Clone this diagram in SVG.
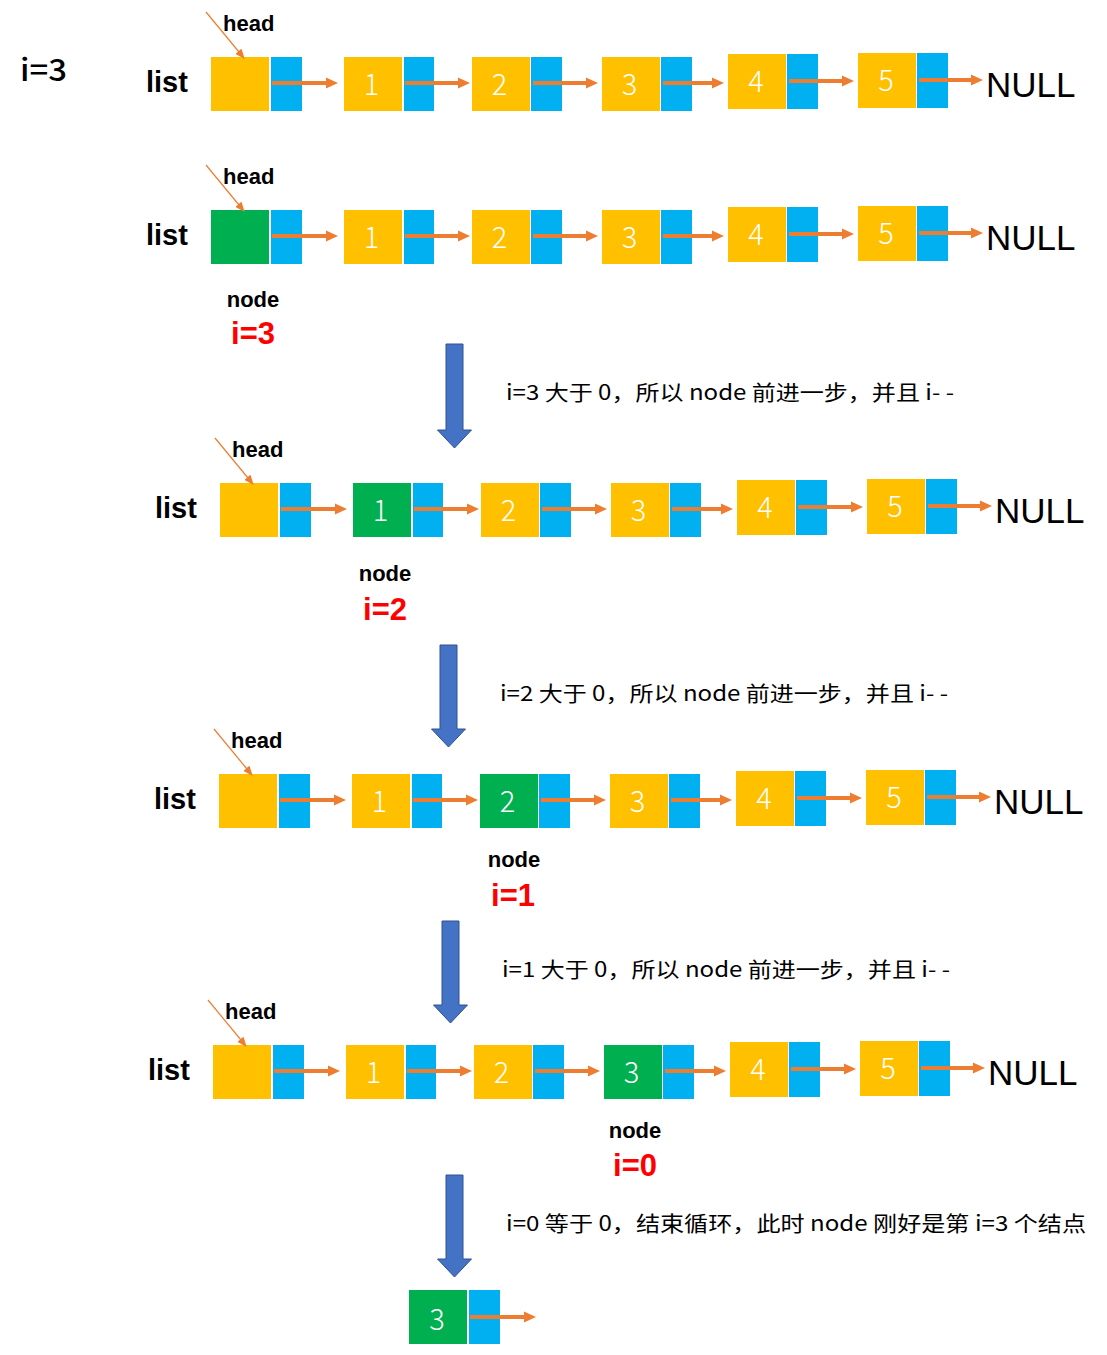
<svg xmlns="http://www.w3.org/2000/svg" width="1107" height="1355" viewBox="0 0 1107 1355">
<style>
.y{fill:#FFC000}
.b{fill:#00B0F0}
.g{fill:#00B050}
.num{font-family:"Noto Sans CJK SC","Liberation Sans",Arial,sans-serif;font-weight:300;font-size:29px;fill:#FFFFFF;text-anchor:middle}
.null{font-family:"Liberation Sans",Arial,sans-serif;font-size:35px;fill:#000000}
.lbl{font-family:"Liberation Sans",Arial,sans-serif;font-weight:bold;fill:#000000}
.red{font-family:"Liberation Sans",Arial,sans-serif;font-weight:bold;font-size:31px;fill:#FF0000;text-anchor:middle}
.cap{font-family:"Noto Sans CJK SC","Liberation Sans",sans-serif;font-size:21px;fill:#000000}
.conn{stroke:#ED7D31;stroke-width:4;fill:none;marker-end:url(#ah)}
.hconn{stroke:#ED7D31;stroke-width:1.2;fill:none;marker-end:url(#ahs)}
.down{fill:#4472C4;stroke:#2F528F;stroke-width:1}
</style>
<defs>
<marker id="ah" markerUnits="userSpaceOnUse" viewBox="0 0 12 12" markerWidth="12" markerHeight="12" refX="1" refY="6" orient="auto">
<path d="M0,0.5 L12,6 L0,11.5 Z" fill="#ED7D31"/>
</marker>
<marker id="ahs" markerUnits="userSpaceOnUse" viewBox="0 0 10 8" markerWidth="10" markerHeight="8" refX="1" refY="4" orient="auto">
<path d="M0,0 L10,4 L0,8 Z" fill="#ED7D31"/>
</marker>
</defs>
<rect width="1107" height="1355" fill="#FFFFFF"/>

<text x="20" y="81" font-family="Noto Sans CJK SC, Liberation Sans, sans-serif" font-weight="500" font-size="31" textLength="47" lengthAdjust="spacingAndGlyphs">i=3</text>

<!-- Row 1 -->
<g id="row1">
<text class="lbl" x="146" y="92" font-size="29">list</text>
<text class="lbl" x="223" y="31" font-size="22">head</text>
<g id="r1-head"><rect class="y" x="211" y="57" width="58" height="54"/><rect class="b" x="271" y="57" width="31" height="54"/></g>
<g id="r1-n1"><rect class="y" x="344" y="57" width="58" height="54"/><rect class="b" x="404" y="57" width="30" height="54"/><text class="num" x="371.5" y="95">1</text></g>
<g id="r1-n2"><rect class="y" x="472" y="57" width="58" height="54"/><rect class="b" x="531" y="57" width="31" height="54"/><text class="num" x="499.5" y="95">2</text></g>
<g id="r1-n3"><rect class="y" x="602" y="57" width="58" height="54"/><rect class="b" x="661" y="57" width="31" height="54"/><text class="num" x="629.5" y="95">3</text></g>
<g id="r1-n4"><rect class="y" x="728" y="54" width="58" height="55"/><rect class="b" x="787" y="54" width="31" height="55"/><text class="num" x="756" y="92">4</text></g>
<g id="r1-n5"><rect class="y" x="858" y="53" width="58" height="55"/><rect class="b" x="917" y="53" width="31" height="55"/><text class="num" x="886" y="91">5</text></g>
<text class="null" x="986" y="97">NULL</text>
</g>

<!-- Row 2 -->
<g id="row2" transform="translate(0,153)">
<text class="lbl" x="146" y="92" font-size="29">list</text>
<text class="lbl" x="223" y="31" font-size="22">head</text>
<g id="r2-head"><rect class="g" x="211" y="57" width="58" height="54"/><rect class="b" x="271" y="57" width="31" height="54"/></g>
<g id="r2-n1"><rect class="y" x="344" y="57" width="58" height="54"/><rect class="b" x="404" y="57" width="30" height="54"/><text class="num" x="371.5" y="95">1</text></g>
<g id="r2-n2"><rect class="y" x="472" y="57" width="58" height="54"/><rect class="b" x="531" y="57" width="31" height="54"/><text class="num" x="499.5" y="95">2</text></g>
<g id="r2-n3"><rect class="y" x="602" y="57" width="58" height="54"/><rect class="b" x="661" y="57" width="31" height="54"/><text class="num" x="629.5" y="95">3</text></g>
<g id="r2-n4"><rect class="y" x="728" y="54" width="58" height="55"/><rect class="b" x="787" y="54" width="31" height="55"/><text class="num" x="756" y="92">4</text></g>
<g id="r2-n5"><rect class="y" x="858" y="53" width="58" height="55"/><rect class="b" x="917" y="53" width="31" height="55"/><text class="num" x="886" y="91">5</text></g>
<text class="null" x="986" y="97">NULL</text>
</g>

<!-- Row 3 -->
<g id="row3" transform="translate(9,426)">
<text class="lbl" x="146" y="92" font-size="29">list</text>
<text class="lbl" x="223" y="31" font-size="22">head</text>
<g id="r3-head"><rect class="y" x="211" y="57" width="58" height="54"/><rect class="b" x="271" y="57" width="31" height="54"/></g>
<g id="r3-n1"><rect class="g" x="344" y="57" width="58" height="54"/><rect class="b" x="404" y="57" width="30" height="54"/><text class="num" x="371.5" y="95">1</text></g>
<g id="r3-n2"><rect class="y" x="472" y="57" width="58" height="54"/><rect class="b" x="531" y="57" width="31" height="54"/><text class="num" x="499.5" y="95">2</text></g>
<g id="r3-n3"><rect class="y" x="602" y="57" width="58" height="54"/><rect class="b" x="661" y="57" width="31" height="54"/><text class="num" x="629.5" y="95">3</text></g>
<g id="r3-n4"><rect class="y" x="728" y="54" width="58" height="55"/><rect class="b" x="787" y="54" width="31" height="55"/><text class="num" x="756" y="92">4</text></g>
<g id="r3-n5"><rect class="y" x="858" y="53" width="58" height="55"/><rect class="b" x="917" y="53" width="31" height="55"/><text class="num" x="886" y="91">5</text></g>
<text class="null" x="986" y="97">NULL</text>
</g>

<!-- Row 4 -->
<g id="row4" transform="translate(8,717)">
<text class="lbl" x="146" y="92" font-size="29">list</text>
<text class="lbl" x="223" y="31" font-size="22">head</text>
<g id="r4-head"><rect class="y" x="211" y="57" width="58" height="54"/><rect class="b" x="271" y="57" width="31" height="54"/></g>
<g id="r4-n1"><rect class="y" x="344" y="57" width="58" height="54"/><rect class="b" x="404" y="57" width="30" height="54"/><text class="num" x="371.5" y="95">1</text></g>
<g id="r4-n2"><rect class="g" x="472" y="57" width="58" height="54"/><rect class="b" x="531" y="57" width="31" height="54"/><text class="num" x="499.5" y="95">2</text></g>
<g id="r4-n3"><rect class="y" x="602" y="57" width="58" height="54"/><rect class="b" x="661" y="57" width="31" height="54"/><text class="num" x="629.5" y="95">3</text></g>
<g id="r4-n4"><rect class="y" x="728" y="54" width="58" height="55"/><rect class="b" x="787" y="54" width="31" height="55"/><text class="num" x="756" y="92">4</text></g>
<g id="r4-n5"><rect class="y" x="858" y="53" width="58" height="55"/><rect class="b" x="917" y="53" width="31" height="55"/><text class="num" x="886" y="91">5</text></g>
<text class="null" x="986" y="97">NULL</text>
</g>

<!-- Row 5 -->
<g id="row5" transform="translate(2,988)">
<text class="lbl" x="146" y="92" font-size="29">list</text>
<text class="lbl" x="223" y="31" font-size="22">head</text>
<g id="r5-head"><rect class="y" x="211" y="57" width="58" height="54"/><rect class="b" x="271" y="57" width="31" height="54"/></g>
<g id="r5-n1"><rect class="y" x="344" y="57" width="58" height="54"/><rect class="b" x="404" y="57" width="30" height="54"/><text class="num" x="371.5" y="95">1</text></g>
<g id="r5-n2"><rect class="y" x="472" y="57" width="58" height="54"/><rect class="b" x="531" y="57" width="31" height="54"/><text class="num" x="499.5" y="95">2</text></g>
<g id="r5-n3"><rect class="g" x="602" y="57" width="58" height="54"/><rect class="b" x="661" y="57" width="31" height="54"/><text class="num" x="629.5" y="95">3</text></g>
<g id="r5-n4"><rect class="y" x="728" y="54" width="58" height="55"/><rect class="b" x="787" y="54" width="31" height="55"/><text class="num" x="756" y="92">4</text></g>
<g id="r5-n5"><rect class="y" x="858" y="53" width="58" height="55"/><rect class="b" x="917" y="53" width="31" height="55"/><text class="num" x="886" y="91">5</text></g>
<text class="null" x="986" y="97">NULL</text>
</g>

<!-- Final node -->
<g id="final-node"><rect class="g" x="409" y="1290" width="58" height="54"/><rect class="b" x="469" y="1290" width="31" height="54"/><text class="num" x="437" y="1330">3</text></g>

<!-- node / i labels -->
<g id="labels">
<text class="lbl" x="253" y="307" font-size="22" text-anchor="middle">node</text>
<text class="red" x="253" y="344">i=3</text>
<text class="lbl" x="385" y="581" font-size="22" text-anchor="middle">node</text>
<text class="red" x="385" y="620">i=2</text>
<text class="lbl" x="514" y="867" font-size="22" text-anchor="middle">node</text>
<text class="red" x="513" y="906">i=1</text>
<text class="lbl" x="635" y="1138" font-size="22" text-anchor="middle">node</text>
<text class="red" x="635" y="1176">i=0</text>
</g>

<!-- captions -->
<g id="captions">
<text class="cap" x="506" y="400" textLength="448" lengthAdjust="spacingAndGlyphs">i=3 大于 0，所以 node 前进一步，并且 i- -</text>
<text class="cap" x="500" y="701" textLength="448" lengthAdjust="spacingAndGlyphs">i=2 大于 0，所以 node 前进一步，并且 i- -</text>
<text class="cap" x="502" y="977" textLength="448" lengthAdjust="spacingAndGlyphs">i=1 大于 0，所以 node 前进一步，并且 i- -</text>
<text class="cap" x="506" y="1231" textLength="580" lengthAdjust="spacingAndGlyphs">i=0 等于 0，结束循环，此时 node 刚好是第 i=3 个结点</text>
</g>

<!-- connectors -->
<g id="connectors">
<g id="conn-row1">
<path class="hconn" d="M206,12 L239,52"/>
<path class="conn" d="M272,83 H327"/>
<path class="conn" d="M405,83 H459"/>
<path class="conn" d="M533,83 H587"/>
<path class="conn" d="M663,83 H713"/>
<path class="conn" d="M789,81 H843"/>
<path class="conn" d="M919,80 H972"/>
</g>
<g id="conn-row2" transform="translate(0,153)">
<path class="hconn" d="M206,12 L239,52"/>
<path class="conn" d="M272,83 H327"/>
<path class="conn" d="M405,83 H459"/>
<path class="conn" d="M533,83 H587"/>
<path class="conn" d="M663,83 H713"/>
<path class="conn" d="M789,81 H843"/>
<path class="conn" d="M919,80 H972"/>
</g>
<g id="conn-row3" transform="translate(9,426)">
<path class="hconn" d="M206,12 L239,52"/>
<path class="conn" d="M272,83 H327"/>
<path class="conn" d="M405,83 H459"/>
<path class="conn" d="M533,83 H587"/>
<path class="conn" d="M663,83 H713"/>
<path class="conn" d="M789,81 H843"/>
<path class="conn" d="M919,80 H972"/>
</g>
<g id="conn-row4" transform="translate(8,717)">
<path class="hconn" d="M206,12 L239,52"/>
<path class="conn" d="M272,83 H327"/>
<path class="conn" d="M405,83 H459"/>
<path class="conn" d="M533,83 H587"/>
<path class="conn" d="M663,83 H713"/>
<path class="conn" d="M789,81 H843"/>
<path class="conn" d="M919,80 H972"/>
</g>
<g id="conn-row5" transform="translate(2,988)">
<path class="hconn" d="M206,12 L239,52"/>
<path class="conn" d="M272,83 H327"/>
<path class="conn" d="M405,83 H459"/>
<path class="conn" d="M533,83 H587"/>
<path class="conn" d="M663,83 H713"/>
<path class="conn" d="M789,81 H843"/>
<path class="conn" d="M919,80 H972"/>
</g>
<path class="conn" d="M470,1317 H525"/>
<path class="down" d="M446,344 H463 V430 H471.5 L454.5,448 L437.5,430 H446 Z"/>
<path class="down" d="M440,645 H457 V729 H465.5 L448.5,747 L431.5,729 H440 Z"/>
<path class="down" d="M442,921 H459 V1005 H467.5 L450.5,1023 L433.5,1005 H442 Z"/>
<path class="down" d="M446,1175 H463 V1259 H471.5 L454.5,1277 L437.5,1259 H446 Z"/>
</g>
</svg>
